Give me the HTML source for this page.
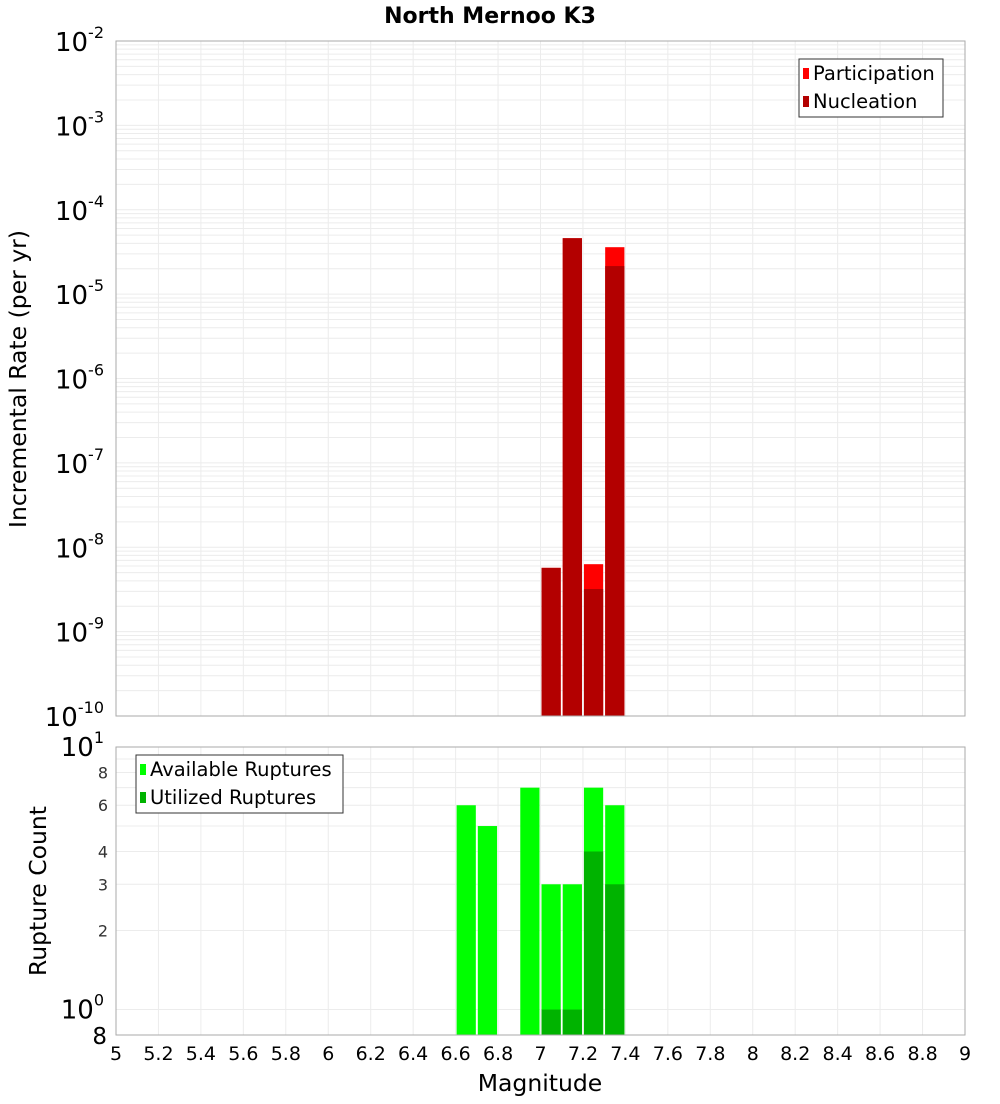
<!DOCTYPE html>
<html><head><meta charset="utf-8"><style>
body{margin:0;background:#fff;font-family:"DejaVu Sans","Liberation Sans",sans-serif;}
</style></head><body>
<svg id="c" width="1000" height="1100" xmlns="http://www.w3.org/2000/svg" font-family="DejaVu Sans, Liberation Sans, sans-serif"></svg>
<script>
const mags=[6.65,6.75,6.85,6.95,7.05,7.15,7.25,7.35];
const participation=[0,0,0,0,5.7e-9,4.6e-5,6.3e-9,3.6e-5];
const nucleation=[0,0,0,0,5.7e-9,4.6e-5,3.2e-9,2.15e-5];
const available=[6,5,0,7,3,3,7,6];
const utilized=[0,0,0,0,1,1,4,3];
const xTicks=["5","5.2","5.4","5.6","5.8","6","6.2","6.4","6.6","6.8","7","7.2","7.4","7.6","7.8","8","8.2","8.4","8.6","8.8","9"];
const topExps=[-2,-3,-4,-5,-6,-7,-8,-9,-10];
const botTicks=[8,6,4,3,2];

const svg=document.getElementById('c');
const NS='http://www.w3.org/2000/svg';
function mk(t,a,p){const e=document.createElementNS(NS,t);for(const k in a)e.setAttribute(k,a[k]);(p||svg).appendChild(e);return e;}
const X0=116,X1=965;
const x=m=>X0+(m-5)/4*(X1-X0);
const T0=41,T1=716;
const yT=v=>T0+(-2-Math.log10(v))/8*(T1-T0);
const B0=747,B1=1035;
const yB=v=>B0+(1-Math.log10(v))/(1-Math.log10(0.8))*(B1-B0);

let t=mk('text',{x:490,y:23,'text-anchor':'middle','font-size':22,'font-weight':'bold'});t.textContent='North Mernoo K3';


for(let m=5;m<=9.001;m+=0.2){
 let l=mk('line',{x1:x(m),x2:x(m),y1:T0,y2:T1,stroke:'#ececec'});
 
 l=mk('line',{x1:x(m),x2:x(m),y1:B0,y2:B1,stroke:'#ececec'});
 
}
for(let e=-10;e<-2;e++){for(let k=1;k<10;k++){const yy=yT(k*Math.pow(10,e));
 const l=mk('line',{x1:X0,x2:X1,y1:yy,y2:yy,stroke:'#ececec'});
 }}
for(let v=1;v<=10;v++){const yy=yB(v);
 const l=mk('line',{x1:X0,x2:X1,y1:yy,y2:yy,stroke:'#ececec'});
 }

mags.forEach((m,i)=>{
 const xl=x(m-0.05)+1,w=x(m+0.05)-x(m-0.05)-2;
 if(participation[i]>0){const r=mk('rect',{x:xl,y:yT(participation[i]),width:w,height:T1-yT(participation[i]),fill:'#ff0000'});
  }
 if(nucleation[i]>0){const r=mk('rect',{x:xl,y:yT(nucleation[i]),width:w,height:T1-yT(nucleation[i]),fill:'#b30000'});
  }
 if(available[i]>0){const r=mk('rect',{x:xl,y:yB(available[i]),width:w,height:B1-yB(available[i]),fill:'#00ff00'});
  }
 if(utilized[i]>0){const r=mk('rect',{x:xl,y:yB(utilized[i]),width:w,height:B1-yB(utilized[i]),fill:'#00b300'});
  }
});

let f=mk('rect',{x:X0,y:T0,width:X1-X0,height:T1-T0,fill:'none',stroke:'#aaa'});

f=mk('rect',{x:X0,y:B0,width:X1-X0,height:B1-B0,fill:'none',stroke:'#aaa'});


topExps.forEach(e=>{const yy=yT(Math.pow(10,e));
 const g=mk('text',{x:104,y:yy+10,'text-anchor':'end','font-size':26});
 
 g.innerHTML='10<tspan dy="-13" font-size="16">'+e+'</tspan>';
});
let g=mk('text',{x:104,y:yB(10)+9,'text-anchor':'end','font-size':26});

g.innerHTML='10<tspan dy="-13" font-size="16">1</tspan>';
g=mk('text',{x:104,y:yB(1)+9,'text-anchor':'end','font-size':26});

g.innerHTML='10<tspan dy="-13" font-size="16">0</tspan>';
g=mk('text',{x:107,y:yB(0.8)+9,'text-anchor':'end','font-size':23});g.textContent='8';

botTicks.forEach(v=>{const tt=mk('text',{x:108,y:yB(v)+6,'text-anchor':'end','font-size':16,fill:'#333'});tt.textContent=v;
 });

xTicks.forEach(s=>{const tt=mk('text',{x:x(parseFloat(s)),y:1060,'text-anchor':'middle','font-size':19});tt.textContent=s;
 });

t=mk('text',{x:540,y:1091,'text-anchor':'middle','font-size':23.5});t.textContent='Magnitude';

t=mk('text',{x:26,y:379,'text-anchor':'middle','font-size':23.5,transform:'rotate(-90 26 379)'});t.textContent='Incremental Rate (per yr)';

t=mk('text',{x:46,y:891,'text-anchor':'middle','font-size':23.5,transform:'rotate(-90 46 891)'});t.textContent='Rupture Count';


function legend(x0,y0,w,h,items,name){
 const gg=mk('g',{});
 mk('rect',{x:x0,y:y0,width:w,height:h,fill:'#fff',stroke:'#333'},gg);
 items.forEach((it,i)=>{
  mk('rect',{x:x0+4,y:y0+9+i*28,width:6,height:11,fill:it[1]},gg);
  const tt=mk('text',{x:x0+14,y:y0+21+i*28,'font-size':19.5},gg);tt.textContent=it[0];
  
 });
}
legend(799,59,144,58,[['Participation','#ff0000'],['Nucleation','#b30000']],'legend-top');
legend(136,755,207,58,[['Available Ruptures','#00ff00'],['Utilized Ruptures','#00b300']],'legend-bottom');
</script>
</body></html>
